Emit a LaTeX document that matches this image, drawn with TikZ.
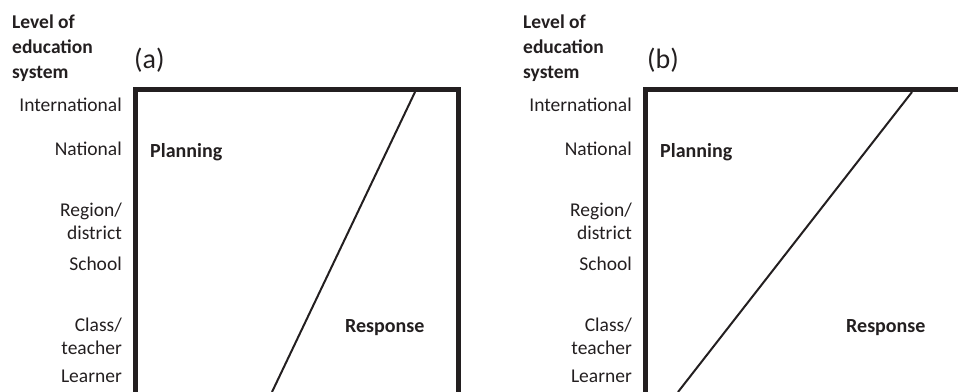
\documentclass[tikz,border=0pt]{standalone}
\usepackage{fontspec}
\setmainfont{Carlito}
\definecolor{ink}{HTML}{231F20}
\begin{document}
\begin{tikzpicture}[x=1pt, y=-1pt,
    level/.style = {anchor=east, inner sep=0, align=right, text=ink, font=\fontsize{19.5}{23}\selectfont},
    head/.style = {anchor=north west, inner sep=0, align=left, text=ink, font=\bfseries\fontsize{19.5}{25}\selectfont},
    panel/.style = {anchor=base west, inner sep=0, text=ink, font=\fontsize{28}{30}\selectfont},
    zone/.style = {anchor=base west, inner sep=0, text=ink, font=\bfseries\fontsize{20}{21}\selectfont},
    frame/.style = {draw=ink, line width=4.8pt},
    divide/.style = {draw=ink, line width=2pt}]
    \useasboundingbox (0,0) rectangle (958,391);
    \clip (0,0) rectangle (958,391);
    % (a)
    \node[head] (a-head) at (12,15) {Level of\\education\\system};
    \node[panel] (a-tag) at (134,68) {(a)};
    \node[level] (a-int) at (122,104.5) {International};
    \node[level] (a-nat) at (122,148.5) {National};
    \node[level] (a-reg) at (122,221) {Region/\\district};
    \node[level] (a-sch) at (122,263.5) {School};
    \node[level] (a-cla) at (122,336) {Class/\\teacher};
    \node[level] (a-lea) at (122,376.5) {Learner};
    \draw[frame] (135.3,392) |- (458.5,89.5) -- (458.5,392);
    \coordinate (a-top) at (415,92);
    \coordinate (a-bot) at (272,392);
    \draw[divide] (a-top) -- (a-bot);
    \node[zone] (a-plan) at (150,157) {Planning};
    \node[zone] (a-resp) at (345,332) {Response};
    % (b)
    \node[head] (b-head) at (523,15) {Level of\\education\\system};
    \node[panel] (b-tag) at (647,68) {(b)};
    \node[level] (b-int) at (632,104.5) {International};
    \node[level] (b-nat) at (632,148.5) {National};
    \node[level] (b-reg) at (632,221) {Region/\\district};
    \node[level] (b-sch) at (632,263.5) {School};
    \node[level] (b-cla) at (632,336) {Class/\\teacher};
    \node[level] (b-lea) at (632,376.5) {Learner};
    \draw[frame] (645.5,392) |- (962,89.5);
    \coordinate (b-top) at (912,92);
    \coordinate (b-bot) at (678,392);
    \draw[divide] (b-top) -- (b-bot);
    \node[zone] (b-plan) at (660,157) {Planning};
    \node[zone] (b-resp) at (846,332) {Response};
\end{tikzpicture}
\end{document}
